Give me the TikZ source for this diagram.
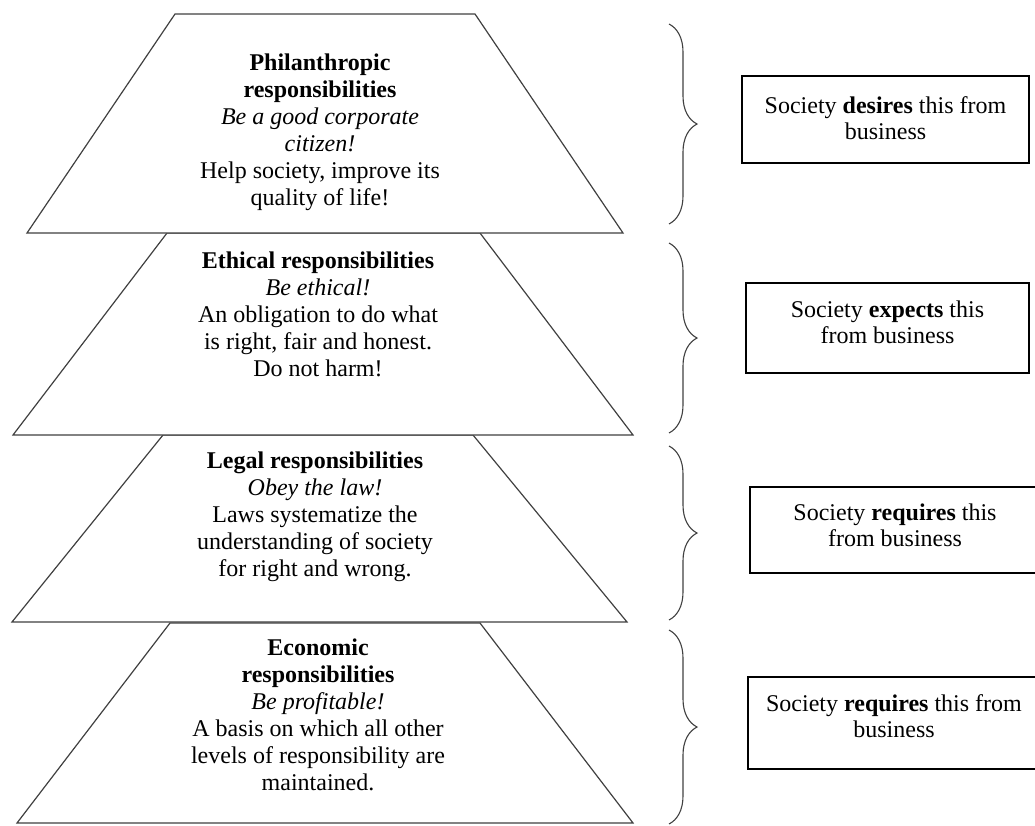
\documentclass[tikz,border=0pt]{standalone}
\usepackage{fontspec}
\setmainfont{Liberation Serif}
\usetikzlibrary{
    decorations.pathreplacing
}

\begin{document}
\begin{tikzpicture}[x=1pt, y=-1pt,
        level/.style={draw=black!75, line width=1.2pt, fill=white},
        level text/.style={align=center, anchor=north, inner sep=0pt, font=\fontsize{24}{27}\selectfont},
        society box/.style={draw, rectangle, line width=1.2pt, align=center, inner sep=0pt, font=\fontsize{24}{26.6}\selectfont},
        bracket/.style={draw=black!75, line width=1.1pt, decorate, decoration={brace, amplitude=28pt}}]
                \useasboundingbox (0,0) rectangle (1035,825);

                \draw[level] (170,623) -- (480,623) -- (633,823) -- (17,823) -- cycle;
                \draw[level] (163,435) -- (473,435) -- (627,622) -- (12,622) -- cycle;
                \draw[level] (167,233) -- (480,233) -- (633,435) -- (13,435) -- cycle;
                \draw[level] (175,14) -- (475,14) -- (623,233) -- (27,233) -- cycle;

                \node[level text] (philanthropic) at (320,54) {\textbf{Philanthropic}\\\textbf{responsibilities}\\\textit{Be a good corporate}\\\textit{citizen!}\\Help society, improve its\\quality of life!};
                \node[level text] (ethical) at (318,252) {\textbf{Ethical responsibilities}\\\textit{Be ethical!}\\An obligation to do what\\is right, fair and honest.\\Do not harm!};
                \node[level text] (legal) at (315,452) {\textbf{Legal responsibilities}\\\textit{Obey the law!}\\Laws systematize the\\understanding of society\\for right and wrong.};
                \node[level text] (economic) at (318,639) {\textbf{Economic}\\\textbf{responsibilities}\\\textit{Be profitable!}\\A basis on which all other\\levels of responsibility are\\maintained.};

                \draw[bracket] (669,24) -- (669,224);
                \draw[bracket] (669,243) -- (669,433);
                \draw[bracket] (669,446) -- (669,620);
                \draw[bracket] (669,630) -- (669,824);

                \node[society box, minimum width=287pt, minimum height=87pt] (desires) at (885.5,119.5) {Society \textbf{desires} this from\\business\rule[-3pt]{0pt}{0pt}};
                \node[society box, minimum width=283pt, minimum height=90pt] (expects) at (887.5,328) {Society \textbf{expects} this\\from business\rule[-12pt]{0pt}{0pt}};
                \node[society box, minimum width=290pt, minimum height=86pt] (requires legal) at (895,530) {Society \textbf{requires} this\\from business\rule[-10pt]{0pt}{0pt}};
                \node[society box, minimum width=292pt, minimum height=92pt] (requires economic) at (894,723) {Society \textbf{requires} this from\\business\rule[-14pt]{0pt}{0pt}};
            \end{tikzpicture}
\end{document}
